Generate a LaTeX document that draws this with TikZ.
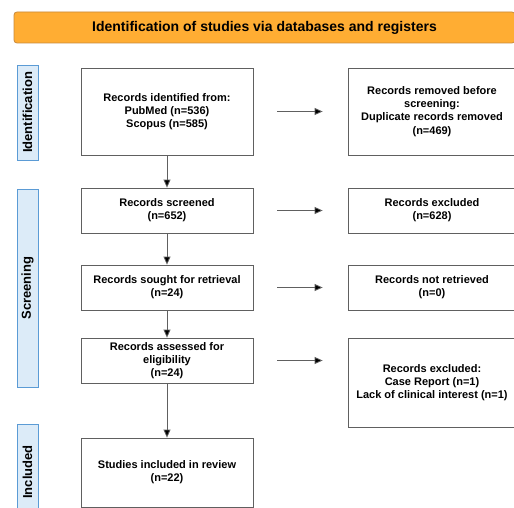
\documentclass[tikz,border=0pt]{standalone}
\usepackage{fontspec}
\setmainfont{Liberation Sans}
\usetikzlibrary{positioning, arrows.meta, calc}

\definecolor{titlefill}{HTML}{FFAD33}
\definecolor{titleline}{HTML}{C8893A}
\definecolor{phasefill}{HTML}{DCEBF8}
\definecolor{phaseline}{HTML}{5B9BD5}
\definecolor{boxline}{HTML}{606060}

\begin{document}
\begin{tikzpicture}[x=1pt, y=-1pt]
\tikzset{
    every node/.style={align=center, font=\bfseries\fontsize{11}{13.3}\selectfont},
    recbox/.style={draw=boxline, line width=0.8pt, minimum width=172pt, inner sep=2pt},
    phase/.style={draw=phaseline, fill=phasefill, line width=0.8pt, rotate=90,
        minimum height=21pt, inner sep=0pt, font=\bfseries\fontsize{13}{14}\selectfont},
    flow/.style={draw=boxline, line width=0.8pt, -{Triangle[length=8pt, width=7pt, fill=black]}}
}
\clip (0,0) rectangle (514,508);
\fill[white] (0,0) rectangle (514,508);

% header
\node[draw=titleline, fill=titlefill, line width=0.8pt, rounded corners=3pt,
    minimum width=501pt, minimum height=31pt, inner sep=0pt,
    font=\bfseries\fontsize{14}{16}\selectfont] (header) at (264.5,27.5)
    {Identification of studies via databases and registers};

% phases
\node[phase, minimum width=95pt] (ident) at (27.5,112.5) {Identification};
\node[phase, minimum width=198pt] (screen) at (27.5,288) {Screening};
\node[phase, minimum width=96pt] (incl) at (27.5,472) {Included};

% main column
\node[recbox, minimum height=87pt] (identified) at (167,111.5)
    {Records identified from:\\PubMed (n=536)\\Scopus (n=585)};
\node[recbox, minimum height=45pt] (screened) at (167,210.5)
    {Records screened\\(n=652)};
\node[recbox, minimum height=45pt] (sought) at (167,287.5)
    {Records sought for retrieval\\(n=24)};
\node[recbox, minimum height=45pt] (assessed) at (167,360.5)
    {Records assessed for\\eligibility\\(n=24)};
\node[recbox, minimum height=69pt] (included) at (167,472.5)
    {Studies included in review\\(n=22)};

% side column
\node[recbox, minimum height=87pt, minimum width=168pt] (removed) at (432,111.5)
    {Records removed before\\screening:\\Duplicate records removed\\(n=469)};
\node[recbox, minimum height=45pt, minimum width=168pt] (excluded) at (432,210.5)
    {Records excluded\\(n=628)};
\node[recbox, minimum height=45pt, minimum width=168pt] (notretr) at (432,287.5)
    {Records not retrieved\\(n=0)};
\node[recbox, minimum height=89pt, minimum width=168pt] (excl2) at (432,382.5)
    {Records excluded:\\Case Report (n=1)\\Lack of clinical interest (n=1)};

% arrows down
\draw[flow] (identified) -- (screened);
\draw[flow] (screened) -- (sought);
\draw[flow] (sought) -- (assessed);
\draw[flow] (assessed) -- (included);

% arrows right
\draw[flow, shorten <=24pt, shorten >=25pt] (identified) -- (removed);
\draw[flow, shorten <=24pt, shorten >=25pt] (screened) -- (excluded);
\draw[flow, shorten <=24pt, shorten >=25pt] (sought) -- (notretr);
\draw[flow, shorten <=24pt, shorten >=25pt] (assessed.east) -- (assessed.east -| excl2.west);
\end{tikzpicture}
\end{document}
